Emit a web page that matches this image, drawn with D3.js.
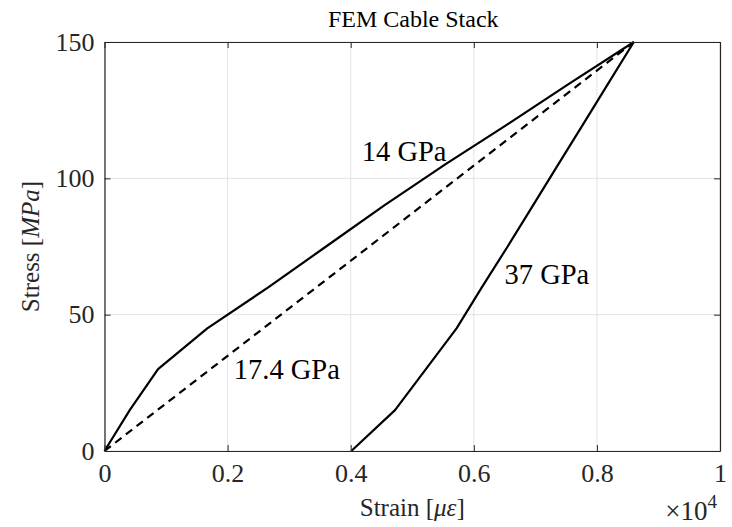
<!DOCTYPE html>
<html><head><meta charset="utf-8">
<script src="https://cdn.jsdelivr.net/npm/d3@7"></script>
<style>body{margin:0;background:#fff;}svg{display:block;}</style>
</head><body>
<svg id="c" width="732" height="527"></svg>
<script>
// Data (strain in units of 1e4 µε, stress in MPa)
const stress14 = [0, 15, 30, 45, 60, 75, 90, 105, 120, 135, 150];
const strain14 = [0, 0.041, 0.087, 0.167, 0.266, 0.360, 0.454, 0.553, 0.656, 0.757, 0.86];
const strainDash = [0, 0.86];
const stressDash = [0, 150];
const stress37 = [0, 15, 45, 60, 75, 90, 105, 120, 135, 150];
const strain37 = [0.401, 0.472, 0.572, 0.613, 0.655, 0.696, 0.737, 0.778, 0.819, 0.86];
const xTicks = [0, 0.2, 0.4, 0.6, 0.8, 1];
const yTicks = [0, 50, 100, 150];
const annotations = [
  {text: "14 GPa", x: 0.418, y: 110},
  {text: "17.4 GPa", x: 0.21, y: 30},
  {text: "37 GPa", x: 0.65, y: 65}
];

const svg = d3.select("#c");
const L = 104.5, R = 720, T = 42, B = 451;
const x = d3.scaleLinear().domain([0, 1]).range([L, R]);
const y = d3.scaleLinear().domain([0, 150]).range([B, T]);
const serif = "Liberation Serif, Times New Roman, serif";
const axisCol = "#262626";

// grid
svg.append("g").selectAll("line").data(xTicks).join("line")
  .attr("x1", d => x(d)).attr("x2", d => x(d)).attr("y1", T).attr("y2", B)
  .attr("stroke", "#e3e3e3").attr("stroke-width", 1);
svg.append("g").selectAll("line").data(yTicks).join("line")
  .attr("x1", L).attr("x2", R).attr("y1", d => y(d)).attr("y2", d => y(d))
  .attr("stroke", "#e3e3e3").attr("stroke-width", 1);

// lines
const line = d3.line().x(d => x(d[0])).y(d => y(d[1]));
const mk = (xs, ys) => xs.map((v, i) => [v, ys[i]]);
svg.append("path").datum(mk(strain14, stress14)).attr("d", line)
  .attr("fill", "none").attr("stroke", "#000").attr("stroke-width", 2.2).attr("stroke-linejoin", "round");
svg.append("path").datum(mk(strainDash, stressDash)).attr("d", line)
  .attr("fill", "none").attr("stroke", "#000").attr("stroke-width", 2.2).attr("stroke-dasharray", "8,5.5");
svg.append("path").datum(mk(strain37, stress37)).attr("d", line)
  .attr("fill", "none").attr("stroke", "#000").attr("stroke-width", 2.2).attr("stroke-linejoin", "round");

// axes
const tl = 6;
const gB = svg.append("g").attr("transform", `translate(0,${B})`)
  .call(d3.axisBottom(x).tickValues(xTicks).tickSizeInner(-tl).tickSizeOuter(0).tickPadding(13).tickFormat(d3.format("~g")));
const gT = svg.append("g").attr("transform", `translate(0,${T})`)
  .call(d3.axisTop(x).tickValues(xTicks).tickSizeInner(-tl).tickSizeOuter(0).tickFormat(""));
const gL = svg.append("g").attr("transform", `translate(${L},0)`)
  .call(d3.axisLeft(y).tickValues(yTicks).tickSizeInner(-tl).tickSizeOuter(0).tickPadding(10));
const gR = svg.append("g").attr("transform", `translate(${R},0)`)
  .call(d3.axisRight(y).tickValues(yTicks).tickSizeInner(-tl).tickSizeOuter(0).tickFormat(""));
[gB, gT, gL, gR].forEach(g => {
  g.attr("font-family", serif).attr("font-size", 26);
  g.select(".domain").attr("stroke", axisCol).attr("stroke-width", 1.2);
  g.selectAll(".tick line").attr("stroke", axisCol).attr("stroke-width", 1);
  g.selectAll("text").attr("font-family", serif).attr("font-size", 26).attr("fill", axisCol);
});

// title
svg.append("text").attr("x", (L + R) / 2 + 1).attr("y", 27).attr("text-anchor", "middle")
  .attr("font-family", serif).attr("font-size", 24).attr("fill", "#000").text("FEM Cable Stack");

// x label
const xl = svg.append("text").attr("x", (L + R) / 2).attr("y", 516).attr("text-anchor", "middle")
  .attr("font-family", serif).attr("font-size", 25).attr("fill", axisCol);
xl.append("tspan").text("Strain [");
xl.append("tspan").attr("font-style", "italic").text("με");
xl.append("tspan").text("]");

// y label
const yl = svg.append("text").attr("transform", `translate(39,${(T + B) / 2}) rotate(-90)`)
  .attr("text-anchor", "middle").attr("font-family", serif).attr("font-size", 25).attr("fill", axisCol);
yl.append("tspan").text("Stress [");
yl.append("tspan").attr("font-style", "italic").text("MPa");
yl.append("tspan").text("]");

// exponent
const ex = svg.append("text").attr("x", 717).attr("y", 520).attr("text-anchor", "end")
  .attr("font-family", serif).attr("font-size", 27).attr("fill", axisCol);
ex.append("tspan").text("×10");
ex.append("tspan").attr("dy", -12).attr("font-size", 19).text("4");

// annotations
svg.append("g").selectAll("text").data(annotations).join("text")
  .attr("x", d => x(d.x)).attr("y", d => y(d.y)).attr("dy", "0.35em")
  .attr("font-family", serif).attr("font-size", 28.5).attr("fill", "#000").text(d => d.text);
</script>
</body></html>
